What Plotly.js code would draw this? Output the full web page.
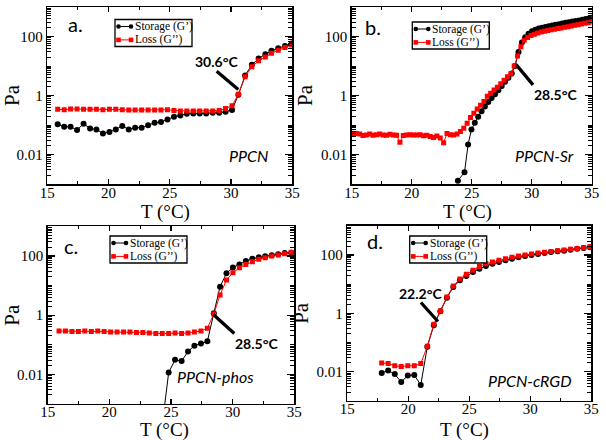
<!DOCTYPE html>
<html>
<head>
<meta charset="utf-8">
<script src="https://cdn.plot.ly/plotly-3.0.1.min.js"></script>
<style>
  html, body { margin: 0; padding: 0; background: #fff; }
  #chart { width: 606px; height: 440px; }
</style>
</head>
<body>
<div id="chart"></div>
<script>
// Storage (G') and loss (G'') moduli vs temperature, four PPCN variants.

// a. PPCN
const aT = [15.85, 16.38, 16.9, 17.43, 17.96, 18.49, 19.01, 19.54, 20.07, 20.59, 21.12, 21.65, 22.17, 22.7,
  23.23, 23.76, 24.28, 24.81, 25.34, 25.86, 26.39, 26.92, 27.44, 27.97, 28.5, 29.03, 29.55, 30.08, 30.6,
  31.15, 31.7, 32.25, 32.8, 33.3, 33.85, 34.4, 34.95];
const aStorage = [0.105, 0.087, 0.087, 0.068, 0.11, 0.076, 0.071, 0.052, 0.058, 0.071, 0.093, 0.071, 0.081, 0.081,
  0.098, 0.12, 0.126, 0.155, 0.19, 0.21, 0.24, 0.245, 0.245, 0.245, 0.26, 0.26, 0.28, 0.32, 1.07,
  4.8, 11, 18, 25, 33, 40, 48, 58];
const aLoss = [0.34, 0.33, 0.35, 0.35, 0.34, 0.34, 0.34, 0.33, 0.34, 0.34, 0.33, 0.32, 0.32, 0.32,
  0.32, 0.32, 0.32, 0.33, 0.31, 0.30, 0.30, 0.30, 0.30, 0.30, 0.30, 0.31, 0.36, 0.45, 1.1,
  4.3, 9.5, 15, 20, 27, 34, 42, 52];

// b. PPCN-Sr
const bLossT = [15.1, 15.38, 15.66, 15.94, 16.22, 16.5, 16.78, 17.06, 17.34, 17.62, 17.9, 18.18, 18.46, 18.74,
  19.02, 19.3, 19.58, 19.86, 20.14, 20.42, 20.7, 20.98, 21.26, 21.54, 21.82, 22.1, 22.38, 22.66, 22.94,
  23.22, 23.5, 23.78, 24.06, 24.34, 24.62, 24.9, 25.18, 25.46, 25.74, 26.02, 26.3, 26.58, 26.86, 27.14,
  27.42, 27.7, 27.98, 28.26, 28.54, 28.82, 29.1, 29.38, 29.66, 29.94, 30.22, 30.5, 30.78, 31.06, 31.34,
  31.62, 31.9, 32.18, 32.46, 32.74, 33.02, 33.3, 33.58, 33.86, 34.14, 34.42, 34.7, 34.98];
const bLoss = [0.052, 0.052, 0.05, 0.044, 0.046, 0.05, 0.045, 0.047, 0.05, 0.046, 0.045, 0.049, 0.046, 0.045,
  0.026, 0.044, 0.046, 0.047, 0.046, 0.046, 0.047, 0.043, 0.045, 0.041, 0.038, 0.042, 0.036, 0.025, 0.052,
  0.047, 0.046, 0.05, 0.06, 0.078, 0.115, 0.18, 0.25, 0.35, 0.47, 0.62, 0.95, 1.2, 1.55, 1.9,
  2.5, 3.3, 4.3, 5.5, 10, 22, 45, 75, 92, 108, 120, 132, 142, 150, 160,
  168, 176, 185, 195, 205, 215, 228, 240, 252, 265, 280, 295, 310];
const bStorT = [23.85, 24.4, 24.7, 24.98, 25.26, 25.54, 25.82, 26.1, 26.38, 26.66, 26.94, 27.22, 27.5, 27.78,
  28.06, 28.34, 28.62, 28.9, 29.18, 29.46, 29.74, 30.02, 30.3, 30.58, 30.86, 31.14, 31.42, 31.7, 31.98,
  32.26, 32.54, 32.82, 33.1, 33.38, 33.66, 33.94, 34.22, 34.5, 34.78, 34.98];
const bStorage = [0.0013, 0.0025, 0.022, 0.07, 0.12, 0.19, 0.29, 0.42, 0.6, 0.82, 1.1, 1.5, 2.1, 2.9,
  4.0, 5.6, 10, 30, 62, 95, 125, 150, 170, 185, 198, 210, 222, 235, 248,
  262, 276, 290, 305, 320, 336, 352, 370, 390, 410, 430];

// c. PPCN-phos
const cT = [15.92, 16.44, 16.97, 17.49, 18.01, 18.54, 19.06, 19.58, 20.1, 20.63, 21.15, 21.67, 22.2, 22.72,
  23.24, 23.77, 24.29, 24.81, 25.33, 25.86, 26.38, 26.9, 27.43, 27.95, 28.47,
  28.98, 29.5, 30.02, 30.55, 31.07, 31.6, 32.12, 32.64, 33.17, 33.7, 34.22, 34.75];
const cStorage = [null, null, null, null, null, null, null, null, null, null, null, null, null, null,
  null, null, 0.0002, 0.0115, 0.031, 0.028, 0.059, 0.093, 0.11, 0.13, 1.15,
  9.2, 26, 41, 52, 68, 80, 91, 98, 105, 115, 125, 128];
const cLoss = [0.29, 0.29, 0.28, 0.28, 0.29, 0.28, 0.29, 0.28, 0.27, 0.27, 0.27, 0.27, 0.26, 0.26,
  0.25, 0.24, 0.24, 0.24, 0.25, 0.24, 0.25, 0.27, 0.29, 0.36, 1.1,
  4.8, 15.5, 27, 40, 52, 64, 77, 88, 100, 108, 120, 135];

// d. PPCN-cRGD
const dT = [17.82, 18.35, 18.89, 19.42, 19.96, 20.49, 21.02, 21.56, 22.09, 22.63, 23.16, 23.69, 24.23, 24.76,
  25.3, 25.83, 26.36, 26.9, 27.43, 27.97, 28.5, 29.03, 29.57, 30.1, 30.63, 31.17, 31.7, 32.24, 32.77,
  33.3, 33.84, 34.37, 34.9];
const dStorage = [0.009, 0.011, 0.0083, 0.0044, 0.0074, 0.0077, 0.0035, 0.072, 0.39, 1.17, 3.4, 8, 13.5, 19,
  26, 34, 42, 50, 57, 66, 75, 83, 92, 100, 108, 117, 126, 134, 140,
  152, 164, 174, 184];
const dLoss = [0.02, 0.019, 0.016, 0.015, 0.016, 0.016, 0.019, 0.075, 0.42, 1.2, 3.6, 8.7, 15, 22,
  30, 40, 50, 58, 66, 75, 83, 92, 100, 108, 116, 124, 132, 140, 148,
  158, 168, 178, 190];

const Y_TICKS = [0.01, 1, 100];
const Y_TICK_TEXT = ["0.01", "1", "100"];
const LEGEND_NAMES = ["Storage (G\u2019)", "Loss (G\u2019\u2019)"];
const PANEL_LABELS = ["a.", "b.", "c.", "d."];
const SAMPLE_NAMES = ["PPCN", "PPCN-Sr", "PPCN-phos", "PPCN-cRGD"];
const TRANSITIONS = ["30.6\u00b0C", "28.5\u00b0C", "28.5\u00b0C", "22.2\u00b0C"];

// log minor ticks: 1..9 x 10^n between 0.001 and 1000
const Y_MINOR = [];
for (let e = -3; e <= 2; e++) for (let m = 1; m <= 9; m++) Y_MINOR.push(m * Math.pow(10, e));
Y_MINOR.push(1000);

const W = 606, H = 440;
const px = x => x / W;
const py = y => 1 - y / H;
const SERIF = "Liberation Serif, Times New Roman, serif";
const SANS = "Lato, Open Sans, sans-serif";
const RED = "#ff0000";

// plot frames in page pixels: [left, right, top, bottom]
const FRAMES = [[47.3, 292.3, 7, 184], [351.7, 591.7, 7, 184], [47.7, 294.3, 226.4, 403.9], [347.3, 591.3, 225.8, 400.9]];

function xAxis(f, anchor) {
  return {
    domain: [px(f[0]), px(f[1])], anchor, range: [15, 35],
    tick0: 15, dtick: 5, ticks: "inside", ticklen: 5, tickwidth: 1.2, tickcolor: "#000",
    minor: { dtick: 2.5, ticks: "inside", ticklen: 3, tickwidth: 1, tickcolor: "#000", showgrid: false },
    showline: true, linecolor: "#000", linewidth: 1.5, mirror: "allticks",
    showgrid: false, zeroline: false, ticklabelstandoff: -6,
    tickfont: { family: SERIF, size: 15, color: "#000" },
  };
}
function yAxis(f, anchor) {
  return {
    domain: [py(f[3]), py(f[2])], anchor, type: "log", range: [-3, 3],
    tickmode: "array", tickvals: Y_TICKS, ticktext: Y_TICK_TEXT,
    ticks: "inside", ticklen: 7, tickwidth: 1.2, tickcolor: "#000",
    minor: { tickmode: "array", tickvals: Y_MINOR, ticks: "inside", ticklen: 4, tickwidth: 1, tickcolor: "#000", showgrid: false },
    showline: true, linecolor: "#000", linewidth: 1.5, mirror: "allticks",
    showgrid: false, zeroline: false,
    tickfont: { family: SERIF, size: 15, color: "#000" },
    title: { text: "Pa", font: { family: SERIF, size: 21, color: "#000" }, standoff: 2 },
  };
}

function storageTrace(x, y, i) {
  return {
    x, y, xaxis: "x" + (i ? i + 1 : ""), yaxis: "y" + (i ? i + 1 : ""),
    type: "scatter", mode: "lines+markers", showlegend: false,
    line: { color: "#000", width: 1 }, marker: { symbol: "circle", size: 6, color: "#000" },
  };
}
function lossTrace(x, y, i) {
  return {
    x, y, xaxis: "x" + (i ? i + 1 : ""), yaxis: "y" + (i ? i + 1 : ""),
    type: "scatter", mode: "lines+markers", showlegend: false,
    line: { color: RED, width: 1 }, marker: { symbol: "square", size: 5, color: RED },
  };
}

const traces = [
  storageTrace(aT, aStorage, 0), lossTrace(aT, aLoss, 0),
  storageTrace(bStorT, bStorage, 1), lossTrace(bLossT, bLoss, 1),
  storageTrace(cT, cStorage, 2), lossTrace(cT, cLoss, 2),
  storageTrace(dT, dStorage, 3), lossTrace(dT, dLoss, 3),
];

const shapes = [];
const annotations = [];

// Legend boxes drawn by hand (Plotly's legend rows are too tall for this layout)
const LEGEND_POS = [[115, 19.5], [412.3, 22], [110, 236], [409.7, 236]];
LEGEND_POS.forEach(([lx, ly]) => {
  shapes.push({ type: "rect", xref: "paper", yref: "paper", x0: px(lx), x1: px(lx + 77), y0: py(ly), y1: py(ly + 27),
    line: { color: "#000", width: 1.3 }, fillcolor: "#fff", layer: "above" });
  LEGEND_NAMES.forEach((name, i) => {
    const yc = ly + 7 + i * 13.4;
    const col = i ? RED : "#000";
    shapes.push({ type: "line", xref: "paper", yref: "paper", x0: px(lx + 3.5), x1: px(lx + 16), y0: py(yc), y1: py(yc),
      line: { color: col, width: 1 } });
    [lx + 3.5, lx + 16].forEach(cx => {
      shapes.push({ type: i ? "rect" : "circle", xref: "paper", yref: "paper",
        x0: px(cx - 2.3), x1: px(cx + 2.3), y0: py(yc - 2.3), y1: py(yc + 2.3),
        line: { color: col, width: 0 }, fillcolor: col });
    });
    annotations.push({ xref: "paper", yref: "paper", x: px(lx + 18), y: py(yc), xanchor: "left", yanchor: "middle",
      text: name, showarrow: false, font: { family: SERIF, size: 11.5, color: "#000" } });
  });
});

// x axis titles, panel letters and sample names
const XTITLE_POS = [[165, 211.5], [467, 211.5], [164.5, 430], [464.7, 430]];
const LABEL_POS = [[75.8, 24.3], [373, 27.3], [70.8, 245.6], [374.7, 240.6]];
const NAME_POS = [[248, 155.5], [544.7, 155.5], [215.8, 376.5], [529.7, 380.5]];
PANEL_LABELS.forEach((t, i) => {
  annotations.push({ xref: "paper", yref: "paper", x: px(XTITLE_POS[i][0]), y: py(XTITLE_POS[i][1]),
    xanchor: "center", yanchor: "middle", text: "T (\u00b0C)", showarrow: false,
    font: { family: SERIF, size: 19, color: "#000" } });
  annotations.push({ xref: "paper", yref: "paper", x: px(LABEL_POS[i][0]), y: py(LABEL_POS[i][1]),
    xanchor: "center", yanchor: "middle", text: t, showarrow: false,
    font: { family: SANS, size: 20, color: "#000" } });
  annotations.push({ xref: "paper", yref: "paper", x: px(NAME_POS[i][0]), y: py(NAME_POS[i][1]),
    xanchor: "center", yanchor: "middle", text: SAMPLE_NAMES[i], showarrow: false,
    font: { family: SANS, size: 16, color: "#000", style: "italic" } });
});

// transition temperature callouts: head in data coords (log10 for y), tail offset in px
const CALLOUTS = [
  { x: 30.59, y: 0.2, ax: -21.6, ay: -18.3, xanchor: "center", yanchor: "bottom" },
  { x: 28.72, y: 1.04, ax: 16.7, ay: 20, xanchor: "left", yanchor: "top" },
  { x: 28.43, y: 0.02, ax: 21, ay: 19, xanchor: "left", yanchor: "top" },
  { x: 22.43, y: -0.28, ax: -17, ay: -19, xanchor: "center", yanchor: "bottom" },
];
CALLOUTS.forEach((c, i) => {
  const s = i ? i + 1 : "";
  annotations.push({ xref: "x" + s, yref: "y" + s, x: c.x, y: c.y, ax: c.ax, ay: c.ay,
    xanchor: c.xanchor, yanchor: c.yanchor, text: TRANSITIONS[i], showarrow: true,
    arrowhead: 0, arrowwidth: 3.3, arrowcolor: "#000", standoff: 0, startstandoff: 0,
    font: { family: SANS, size: 14, color: "#000", weight: "bold" }, borderpad: 0 });
});

const layout = {
  width: W, height: H, autosize: false,
  margin: { l: 0, r: 0, t: 0, b: 0 },
  paper_bgcolor: "#fff", plot_bgcolor: "#fff",
  showlegend: false,
  xaxis: xAxis(FRAMES[0], "y"), yaxis: yAxis(FRAMES[0], "x"),
  xaxis2: xAxis(FRAMES[1], "y2"), yaxis2: yAxis(FRAMES[1], "x2"),
  xaxis3: xAxis(FRAMES[2], "y3"), yaxis3: yAxis(FRAMES[2], "x3"),
  xaxis4: xAxis(FRAMES[3], "y4"), yaxis4: yAxis(FRAMES[3], "x4"),
  shapes, annotations,
};

Plotly.newPlot("chart", traces, layout, { displayModeBar: false, staticPlot: true });
</script>
</body>
</html>
